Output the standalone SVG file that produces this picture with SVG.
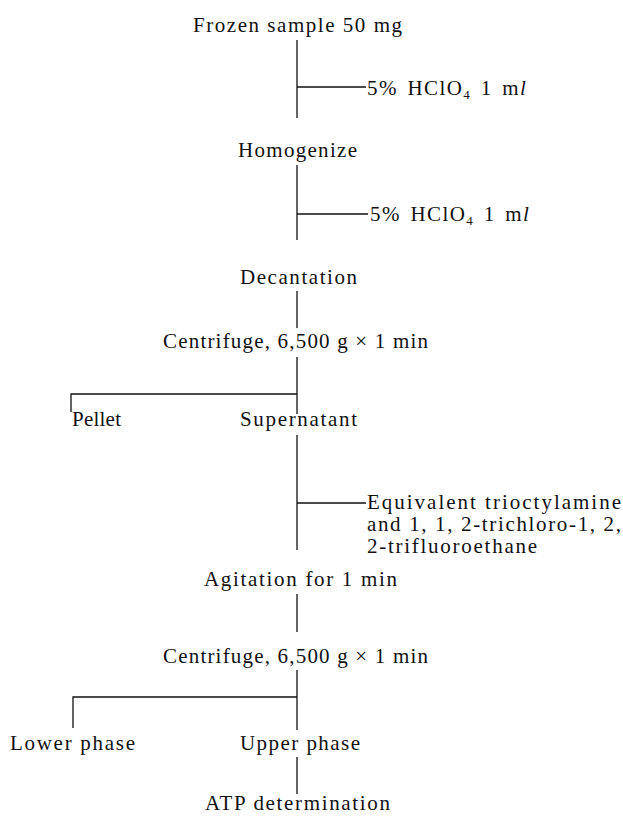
<svg xmlns="http://www.w3.org/2000/svg" width="623" height="816" viewBox="0 0 623 816">
<style>
text{font-family:"Liberation Serif","Times New Roman",serif;font-size:21px;fill:#111}
.c{stroke:#111;stroke-width:1.3;fill:none}
.sub{font-size:13px}
.lab{letter-spacing:1.4px;word-spacing:3px}
</style>
<rect width="623" height="816" fill="#fff"/>
<g id="connectors">
<path class="c" d="M297,40V118"/>
<path class="c" d="M297,87H366"/>
<path class="c" d="M297,165V240"/>
<path class="c" d="M297,214H368"/>
<path class="c" d="M297,291V328"/>
<path class="c" d="M297,357V414"/>
<path class="c" d="M297,394H71V412"/>
<path class="c" d="M297,435V550"/>
<path class="c" d="M297,503H366"/>
<path class="c" d="M297,594V632"/>
<path class="c" d="M297,670V730"/>
<path class="c" d="M297,697H73V728"/>
<path class="c" d="M297,757V794"/>
</g>
<g id="n1"><text x="193" y="32" textLength="209" lengthAdjust="spacing">Frozen sample 50 mg</text></g>
<g id="r1"><text class="lab" x="367" y="95">5% HClO<tspan class="sub" dy="4">4</tspan><tspan dy="-4"> 1 m</tspan><tspan font-style="italic">l</tspan></text></g>
<g id="n2"><text x="238" y="157" textLength="119" lengthAdjust="spacing">Homogenize</text></g>
<g id="r2"><text class="lab" x="370" y="221">5% HClO<tspan class="sub" dy="4">4</tspan><tspan dy="-4"> 1 m</tspan><tspan font-style="italic">l</tspan></text></g>
<g id="n3"><text x="240" y="284" textLength="117" lengthAdjust="spacing">Decantation</text></g>
<g id="n4"><text x="163" y="348" textLength="265" lengthAdjust="spacing">Centrifuge, 6,500 g × 1 min</text></g>
<g id="n5"><text x="72" y="426" textLength="49" lengthAdjust="spacing">Pellet</text></g>
<g id="n6"><text x="240" y="426" textLength="117" lengthAdjust="spacing">Supernatant</text></g>
<g id="r3">
<text x="367" y="509" textLength="254" lengthAdjust="spacing">Equivalent  trioctylamine</text>
<text x="367" y="531" textLength="254" lengthAdjust="spacing">and 1, 1, 2-trichloro-1, 2,</text>
<text x="367" y="553" textLength="170" lengthAdjust="spacing">2-trifluoroethane</text>
</g>
<g id="n7"><text x="204" y="586" textLength="193" lengthAdjust="spacing">Agitation for 1 min</text></g>
<g id="n8"><text x="163" y="663" textLength="265" lengthAdjust="spacing">Centrifuge, 6,500 g × 1 min</text></g>
<g id="n9"><text x="10" y="750" textLength="125" lengthAdjust="spacing">Lower phase</text></g>
<g id="n10"><text x="240" y="750" textLength="120" lengthAdjust="spacing">Upper phase</text></g>
<g id="n11"><text x="205" y="810" textLength="185" lengthAdjust="spacing">ATP determination</text></g>
</svg>
